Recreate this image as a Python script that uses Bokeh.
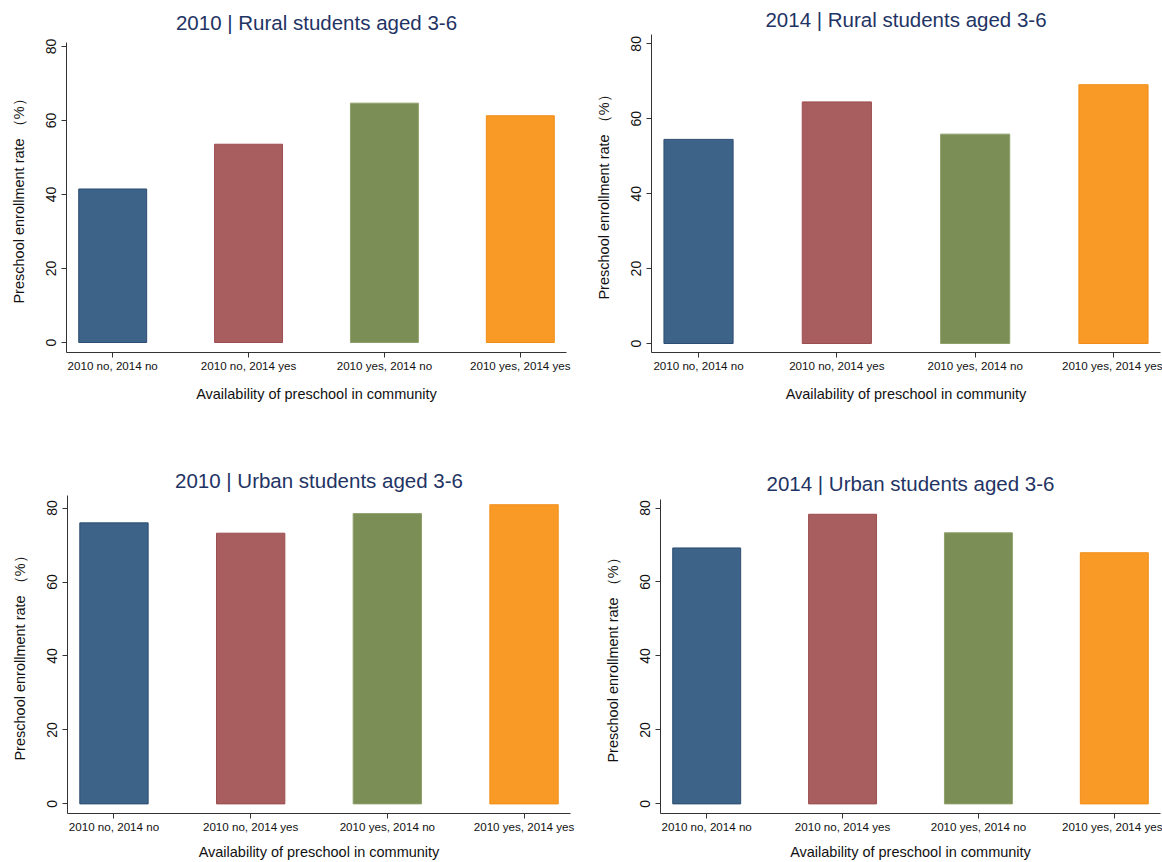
from bokeh.plotting import figure
from bokeh.layouts import column, row
from bokeh.models import FactorRange, Range1d, ColumnDataSource, FixedTicker
from bokeh.embed import file_html
from bokeh.resources import INLINE

categories = ["2010 no, 2014 no", "2010 no, 2014 yes", "2010 yes, 2014 no", "2010 yes, 2014 yes"]
rural_2010 = [41.5, 53.6, 64.7, 61.3]
rural_2014 = [54.5, 64.5, 55.9, 69.1]
urban_2010 = [76.0, 73.2, 78.5, 80.9]
urban_2014 = [69.2, 78.3, 73.3, 67.9]
y_ticks = [0, 20, 40, 60, 80]
titles = ["2010 | Rural students aged 3-6", "2014 | Rural students aged 3-6",
          "2010 | Urban students aged 3-6", "2014 | Urban students aged 3-6"]
fill_colors = ["#3d6389", "#a85e5f", "#7a8e55", "#f99a27"]
line_colors = ["#2d4d72", "#9c4d50", "#8fa06c", "#f18d16"]
x_label = "Availability of preschool in community"
y_label = "Preschool enrollment rate （%）"

FONT = "Liberation Sans"


def panel(title, values, left, right, top, bottom, ystart, yend, title_standoff, xlabel_standoff):
    src = ColumnDataSource(dict(cat=categories, val=values, fill=fill_colors, line=line_colors))
    p = figure(width=581, height=431, output_backend="svg", toolbar_location=None,
               x_range=FactorRange(factors=categories, range_padding=-0.16,
                                   range_padding_units="absolute"),
               y_range=Range1d(ystart, yend),
               min_border_left=left, min_border_right=right,
               min_border_top=top, min_border_bottom=bottom,
               title=title)
    p.vbar(x="cat", top="val", bottom=0, width=0.5, fill_color="fill",
           line_color="line", line_width=1, source=src)
    p.outline_line_color = None
    p.xgrid.grid_line_color = None
    p.ygrid.grid_line_color = None
    p.background_fill_color = "white"
    p.border_fill_color = "white"

    p.title.align = "center"
    p.title.text_font = FONT
    p.title.text_font_size = "20.5px"
    p.title.text_font_style = "normal"
    p.title.text_color = "#1f3464"
    p.title.standoff = title_standoff

    for ax in (p.xaxis[0], p.yaxis[0]):
        ax.axis_line_color = "#333333"
        ax.axis_line_width = 1
        ax.major_tick_line_color = "#333333"
        ax.major_tick_out = 5
        ax.major_tick_in = 0
        ax.minor_tick_line_color = None
        ax.major_label_text_font = FONT
        ax.major_label_text_color = "#111111"
        ax.axis_label_text_font = FONT
        ax.axis_label_text_font_style = "normal"
        ax.axis_label_text_color = "#111111"
        ax.axis_label_text_font_size = "14.5px"

    p.xaxis.axis_label = x_label
    p.xaxis.major_label_text_font_size = "11.6px"
    p.xaxis.major_label_standoff = 1
    p.xaxis.axis_label_standoff = xlabel_standoff

    p.yaxis.axis_label = y_label
    p.yaxis.ticker = FixedTicker(ticks=y_ticks)
    p.yaxis.major_label_orientation = "vertical"
    p.yaxis.major_label_text_font_size = "14px"
    p.yaxis.major_label_standoff = 5
    p.yaxis.axis_label_standoff = 17
    return p


p1 = panel(titles[0], rural_2010, 66, 15, 42, 79, -2.7, 81.1, 17, 11)
p2 = panel(titles[1], rural_2014, 70, 2, 34, 79, -2.4, 82.5, 8, 11)
p3 = panel(titles[2], urban_2010, 67, 11, 64, 49, -2.6, 83.4, 8, 8)
p4 = panel(titles[3], urban_2014, 79, 2, 68, 49, -2.6, 82.3, 9, 8)

layout = column(row(column(p1), column(p2), spacing=0),
                row(column(p3), column(p4), spacing=0), spacing=0)

open("out.html", "w").write(file_html(layout, INLINE))
